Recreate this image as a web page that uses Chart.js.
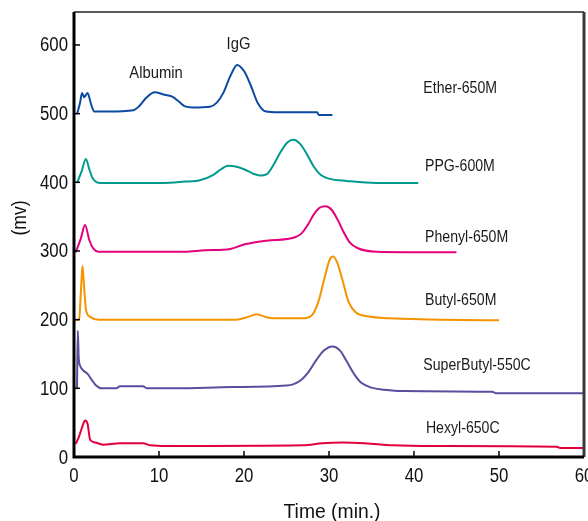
<!DOCTYPE html>
<html>
<head>
<meta charset="utf-8">
<title>HIC chromatograms</title>
<script src="https://cdn.jsdelivr.net/npm/chart.js@4.4.1/dist/chart.umd.min.js"></script>
<style>
  html, body { margin: 0; padding: 0; background: #fff; }
  #chart { display: block; }
</style>
</head>
<body>
<canvas id="chart" width="588" height="521"></canvas>
<script>
/* ============================================================
   Chromatograms of six HIC resins — Chart.js line chart
   ============================================================ */

// --- Data (time in min, signal in mV, traces are offset) ---
const etherT = [0.35, 0.7, 0.95, 1.2, 1.6, 2.0, 2.4, 4, 7, 7.6, 8.5, 9.5, 10.5, 11.5, 12.3, 13.0, 14, 16, 16.8, 17.6, 18.4, 19.2, 20.0, 20.8, 21.6, 22.6, 24, 28.6, 28.8, 30.4];
const etherV = [499, 515, 530, 524, 530, 514, 503, 503, 505, 510, 523, 531, 528, 525, 518, 511, 509, 510, 516, 531, 555, 571, 562, 541, 516, 503, 502, 502, 498, 498];

const ppgT = [0.35, 0.9, 1.4, 1.8, 2.2, 3.1, 8, 10.5, 13, 14.8, 16.4, 17.3, 18.1, 19.0, 20, 21, 21.9, 22.7, 23.5, 24.3, 25.1, 25.8, 26.6, 27.4, 28.2, 29, 30.1, 32.1, 35.6, 40.5];
const ppgV = [399, 416, 434, 419, 406, 399, 399, 399, 401, 403, 411, 419, 424, 423, 419, 413, 410, 412, 426, 444, 458, 462, 456, 441, 423, 411, 405, 402, 399, 399];

const phenylT = [0.2, 0.8, 1.3, 1.8, 2.3, 2.9, 13, 15.4, 18.4, 19.9, 21.5, 22.7, 26, 26.8, 27.5, 28.2, 28.9, 29.6, 30.3, 31.0, 31.7, 32.4, 33.4, 35.6, 45];
const phenylV = [298, 318, 338, 316, 303, 299, 299, 301, 303, 309, 313, 315, 320, 326, 338, 353, 363, 365, 360, 346, 328, 313, 304, 299, 298];

const butylT = [0.2, 0.6, 0.85, 1.0, 1.15, 1.4, 1.9, 2.9, 19, 20.5, 21.5, 22.5, 23.5, 27, 28.1, 28.8, 29.5, 30.1, 30.5, 31, 31.6, 32.3, 33.2, 34.5, 37, 50];
const butylV = [199, 201, 250, 278, 255, 215, 204, 200, 200, 204, 208, 204, 202, 202, 208, 228, 262, 288, 292, 282, 257, 226, 210, 205, 202, 199];

const superButylT = [0.35, 0.45, 0.55, 0.75, 1.1, 1.6, 2.1, 2.6, 3.2, 5, 5.4, 8.1, 8.6, 12, 18.7, 25, 26.6, 27.6, 28.5, 29.4, 30.4, 31.3, 32.1, 33.0, 33.8, 35, 36.5, 38.7, 49.2, 49.6, 60];
const superButylV = [99, 184, 145, 132, 126, 121, 112, 104, 100, 100, 103, 103, 100, 100, 102, 104, 111, 124, 141, 155, 161, 155, 139, 120, 108, 101, 98, 96, 95, 93, 93];

const hexylT = [0.2, 0.6, 1.0, 1.3, 1.6, 1.9, 2.5, 3.4, 5.4, 8.1, 9, 10.9, 27, 29.2, 31.6, 34.2, 37.5, 42.5, 56.8, 57.2, 60];
const hexylV = [19, 30, 45, 53, 48, 25, 21, 18, 20, 20, 17, 16, 17, 20, 21, 20, 17, 16, 15, 13, 13];

const seriesNames = ['Ether-650M', 'PPG-600M', 'Phenyl-650M', 'Butyl-650M', 'SuperButyl-550C', 'Hexyl-650C'];
const seriesColors = ['#0b4aa0', '#009a8e', '#e4007c', '#f39400', '#5b4c9e', '#e2003c'];

// label anchor (left edge time, centre mV) for each trace name
const nameLabelT = [41.1, 41.3, 41.3, 41.3, 41.1, 41.4];
const nameLabelV = [537, 423, 320, 228, 133, 42];

// peak annotations
const peakNames = ['Albumin', 'IgG'];
const peakT = [9.65, 19.35];
const peakV = [559, 601];

const xTicks = [0, 10, 20, 30, 40, 50, 60];
const yTicks = [0, 100, 200, 300, 400, 500, 600];

// no narrow font installed: Liberation Sans squeezed horizontally instead
const fontFamily = "'Liberation Sans', Arial, sans-serif";

function toPoints(ts, vs) {
  return ts.map((t, i) => ({ x: t, y: vs[i] }));
}

function narrowText(ctx, text, x, y, size, squeeze, align) {
  ctx.save();
  ctx.font = size + 'px ' + fontFamily;
  ctx.textAlign = align;
  ctx.textBaseline = 'middle';
  ctx.translate(x, y);
  ctx.scale(squeeze, 1);
  ctx.fillText(text, 0, 0);
  ctx.restore();
}

const traces = [
  toPoints(etherT, etherV),
  toPoints(ppgT, ppgV),
  toPoints(phenylT, phenylV),
  toPoints(butylT, butylV),
  toPoints(superButylT, superButylV),
  toPoints(hexylT, hexylV)
];

/* --- Frame, inward ticks and text labels --- */
const framePlugin = {
  id: 'frame',
  afterDatasetsDraw(chart) {
    const { ctx, chartArea: a, scales } = chart;
    const xs = scales.x, ys = scales.y;
    ctx.save();

    // inward tick marks
    ctx.strokeStyle = '#000';
    ctx.lineWidth = 1.5;
    yTicks.forEach((v) => {
      const py = ys.getPixelForValue(v);
      ctx.beginPath(); ctx.moveTo(a.left, py); ctx.lineTo(a.left + 6, py); ctx.stroke();
    });
    xTicks.forEach((v) => {
      const px = xs.getPixelForValue(v);
      ctx.beginPath(); ctx.moveTo(px, a.bottom); ctx.lineTo(px, a.bottom - 6); ctx.stroke();
    });

    // box: thin top, heavy grey right, heavy black left/bottom
    ctx.strokeStyle = '#222';
    ctx.lineWidth = 1.5;
    ctx.beginPath(); ctx.moveTo(a.left, a.top); ctx.lineTo(a.right, a.top); ctx.stroke();
    ctx.strokeStyle = '#3a3a3a';
    ctx.lineWidth = 3;
    ctx.beginPath(); ctx.moveTo(a.right, a.top); ctx.lineTo(a.right, a.bottom); ctx.stroke();
    ctx.strokeStyle = '#000';
    ctx.beginPath();
    ctx.moveTo(a.left, a.top); ctx.lineTo(a.left, a.bottom); ctx.lineTo(a.right, a.bottom);
    ctx.stroke();

    // tick labels
    ctx.fillStyle = '#111';
    yTicks.forEach((v) => {
      const py = ys.getPixelForValue(v);
      narrowText(ctx, String(v), a.left - 6, v === 0 ? py + 1 : py + 1, 20, 0.84, 'right');
    });
    xTicks.forEach((v) => {
      narrowText(ctx, String(v), xs.getPixelForValue(v), a.bottom + 19, 20, 0.84, 'center');
    });

    // trace names
    ctx.fillStyle = '#1a1a1a';
    seriesNames.forEach((name, i) => {
      narrowText(ctx, name, xs.getPixelForValue(nameLabelT[i]), ys.getPixelForValue(nameLabelV[i]), 17, 0.83, 'left');
    });

    // peak names
    peakNames.forEach((name, i) => {
      narrowText(ctx, name, xs.getPixelForValue(peakT[i]), ys.getPixelForValue(peakV[i]), 17, 0.87, 'center');
    });

    // axis titles
    ctx.fillStyle = '#111';
    narrowText(ctx, 'Time (min.)', (a.left + a.right) / 2 + 3, 512, 21, 0.92, 'center');
    ctx.translate(20, 218);
    ctx.rotate(-Math.PI / 2);
    narrowText(ctx, '(mv)', 0, 0, 20, 0.88, 'center');

    ctx.restore();
  }
};

new Chart(document.getElementById('chart'), {
  type: 'line',
  data: {
    datasets: traces.map((pts, i) => ({
      label: seriesNames[i],
      data: pts,
      borderColor: seriesColors[i],
      borderWidth: 2,
      pointRadius: 0,
      fill: false,
      cubicInterpolationMode: 'monotone'
    }))
  },
  options: {
    responsive: false,
    animation: false,
    events: [],
    layout: { padding: { top: 12, right: 4, left: 0, bottom: 0 } },
    plugins: {
      legend: { display: false },
      tooltip: { enabled: false }
    },
    scales: {
      x: {
        type: 'linear',
        min: 0,
        max: 60,
        afterBuildTicks: (s) => { s.ticks = xTicks.map((v) => ({ value: v })); },
        afterFit: (s) => { s.height = 64; s.paddingLeft = 0; s.paddingRight = 0; },
        grid: { display: false, drawTicks: false },
        border: { display: false },
        ticks: { display: false }
      },
      y: {
        type: 'linear',
        min: 0,
        max: 648,
        afterBuildTicks: (s) => { s.ticks = yTicks.map((v) => ({ value: v })); },
        afterFit: (s) => { s.width = 74; s.paddingTop = 0; s.paddingBottom = 0; },
        grid: { display: false, drawTicks: false },
        border: { display: false },
        ticks: { display: false }
      }
    }
  },
  plugins: [framePlugin]
});
</script>
</body>
</html>
